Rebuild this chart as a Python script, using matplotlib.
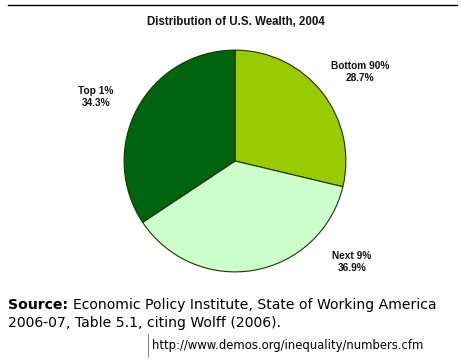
import matplotlib
matplotlib.use("Agg")
import matplotlib.pyplot as plt
from matplotlib.lines import Line2D

# data
groups = ["Bottom 90%", "Next 9%", "Top 1%"]
shares = [28.7, 36.9, 34.3]
colors = ["#99cc00", "#ccffcc", "#006411"]

title = "Distribution of U.S. Wealth, 2004"
source_lines = ["Economic Policy Institute, State of Working America",
                "2006-07, Table 5.1, citing Wolff (2006)."]
url = "http://www.demos.org/inequality/numbers.cfm"

W, H = 461, 361
# label spots in pixels (from top-left)
label_xy = [(360, 72), (352, 262), (96, 97)]


def fx(x):
    return x / W


def fy(y):
    return 1 - y / H


def fit(txt, width_px):
    # scale font so the text spans width_px
    bb = txt.get_window_extent(renderer)
    txt.set_fontsize(txt.get_fontsize() * width_px / bb.width)


fig = plt.figure(figsize=(W / 100, H / 100), dpi=100)
renderer = fig.canvas.get_renderer()

# pie: centre (235, 161), radius 112 px
cx, cy, r = 235, 161, 112
ax = fig.add_axes([fx(cx - r), fy(cy + r), 2 * r / W, 2 * r / H])
ax.pie(shares, colors=colors, startangle=90, counterclock=False,
       wedgeprops=dict(edgecolor="#1a3300", linewidth=0.8))
ax.set_xlim(-1.01, 1.01)
ax.set_ylim(-1.01, 1.01)
ax.set_aspect("equal")

for g, s, (x, y) in zip(groups, shares, label_xy):
    fig.text(fx(x), fy(y), f"{g}\n{s:.1f}%", ha="center", va="center",
             fontsize=7.3, fontweight="bold", family="Liberation Sans",
             color="#111111", linespacing=1.25)

fig.text(fx(236), fy(22), title, ha="center", va="center", fontsize=8.3,
         fontweight="bold", family="Liberation Sans", color="#111111")

# rule at the top
fig.add_artist(Line2D([fx(8), fx(457)], [fy(5), fy(5)], color="black", lw=1))

lab = fig.text(fx(8), fy(305), "Source:", ha="left", va="center", fontsize=10,
               fontweight="bold", family="DejaVu Sans", color="black")
fit(lab, 60)
l1 = fig.text(fx(73), fy(305), source_lines[0], ha="left", va="center",
              fontsize=10, family="DejaVu Sans", color="black")
fit(l1, 364)
fs = l1.get_fontsize()
fig.text(fx(8), fy(323), source_lines[1], ha="left", va="center",
         fontsize=fs, family="DejaVu Sans", color="black")

fig.add_artist(Line2D([fx(148), fx(148)], [fy(334), fy(356)], color="#888888", lw=0.8))
u = fig.text(fx(152), fy(345), url, ha="left", va="center", fontsize=9,
             family="DejaVu Sans Condensed", color="black")
fit(u, 270)

fig.savefig("out.png", dpi=100)
